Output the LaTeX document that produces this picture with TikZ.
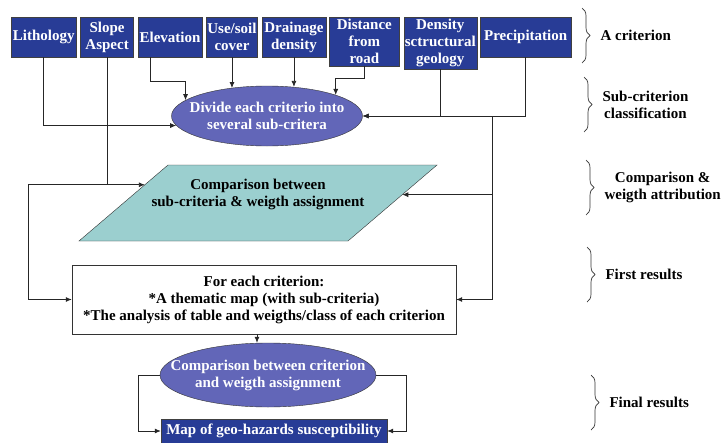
\documentclass[tikz,border=0pt]{standalone}
\usepackage{fontspec}
\setmainfont{Liberation Serif}
\usetikzlibrary{arrows.meta, positioning, calc, shapes.geometric, decorations.pathreplacing}
\definecolor{critc}{RGB}{40,60,150}
\definecolor{ellc}{RGB}{98,102,184}
\definecolor{parac}{RGB}{155,207,207}
\tikzset{
  crit/.style={draw=black!75, fill=critc, text=white, align=center,
               minimum width=#1, minimum height=40pt, inner xsep=1pt, inner ysep=2pt},
  crit/.default=60pt,
  ell/.style={ellipse, draw=black!80, fill=ellc, text=white, align=center,
              inner xsep=-25pt, inner ysep=0pt},
  para/.style={draw=black!80, fill=parac},
  resbox/.style={draw=black!80, fill=white, align=center,
                 minimum width=384pt, minimum height=69pt},
  arr/.style={-{Latex[length=6pt,width=5pt]}, draw=black!85, line width=0.8pt},
  brc/.style={decorate, decoration={brace, amplitude=8pt}, draw=black!80, line width=0.7pt},
  lvl/.style={anchor=west, align=center},
}

\begin{document}
\begin{tikzpicture}[x=1pt, y=-1pt, font=\fontsize{15pt}{17pt}\selectfont\bfseries]
  \path[use as bounding box, fill=white] (0,0) rectangle (725,442);
  % criteria
  \node[crit=65pt, anchor=north west] (lith) at (11,17) {Lithology};
  \node[crit=53pt, right=4pt of lith.north east, anchor=north west] (slope) {Slope\\Aspect};
  \node[crit=64pt, right=4pt of slope.north east, anchor=north west] (elev) {Elevation};
  \node[crit=51pt, right=4pt of elev.north east, anchor=north west] (use) {Use/soil\\cover};
  \node[crit=64pt, right=4pt of use.north east, anchor=north west] (drain) {Drainage\\density};
  \node[crit=70pt, right=3pt of drain.north east, anchor=north west] (dist) {Distance\\from\\road};
  \node[crit=73pt, right=4pt of dist.north east, anchor=north west] (dens) {Density\\sctructural\\geology};
  \node[crit=91pt, right=3pt of dens.north east, anchor=north west] (prec) {Precipitation};

  \node[ell, minimum width=191pt, minimum height=60pt] (div) at (267,116)
    {Divide each criterio into\\several sub-critera};

  % comparison parallelogram
  \coordinate (ptl) at (168,165);
  \coordinate (ptr) at (437,165);
  \coordinate (pbr) at (348,241);
  \coordinate (pbl) at (79,241);
  \draw[para] (ptl) -- (ptr) -- (pbr) -- (pbl) -- cycle;
  \node[align=center] (cmpt) at (258,194) {Comparison between\\sub-criteria \& weigth assignment};
  \coordinate (pl) at ($(ptl)!0.26!(pbl)$);
  \coordinate (pr) at ($(ptr)!0.39!(pbr)$);

  \node[resbox] (res) at (264,299.5)
    {For each criterion:\\*A thematic map (with sub-criteria)\\*The analysis of table and weigths/class of each criterion};

  \node[ell, minimum width=216pt, minimum height=64pt] (cmp) at (268,375)
    {Comparison between criterion\\and weigth assignment};
  \node[crit=226pt, minimum height=24pt] (map) at (274,431) {Map of geo-hazards susceptibility};

  \coordinate (xl) at (28,0);
  \coordinate (xr) at (492,0);

  % connectors
  \draw[arr] (lith.south) |- (div.186);
  \draw[arr] ([xshift=-20pt]elev.south) -- ++(0,24) -| (div.169);
  \draw[arr] (use.south) -- (use.south |- div.142);
  \draw[arr] (drain.south) -- (drain.south |- div.49);
  \draw[arr] (dist.south) -- ++(0,12) -| (div.17);
  \draw[arr] (dens.south) |- (div.east);
  \draw[arr] (prec.south) |- (div.east);
  \draw[arr] (slope.south) |- (pl);
  \draw[arr] (pl -| slope.south) -- (pl -| xl) |- (res.west);
  \draw[arr] (div.east -| xr) |- (res.east);
  \draw[arr] (pr -| xr) -- (pr);
  \draw[arr] ([xshift=-7pt]res.south) -- ([xshift=-7pt]res.south |- cmp.north);
  \draw[arr] (cmp.west) -- ++(-21,0) |- (map.west);
  \draw[arr] (cmp.east) -- ++(30,0) |- (map.east);

  % levels
  \foreach \bx/\by/\lab [count=\i] in {582/8/{A criterion},
      584/77/{Sub-criterion\\classification}, 586/160/{Comparison \&\\weigth attribution},
      587/247/{First results}, 591/375/{Final results}}
  {
    \draw[brc] (\bx,\by) -- (\bx,\by+55);
    \node[lvl] (lv\i) at (\bx+15,\by+27.5) {\lab};
  }
\end{tikzpicture}
\end{document}
